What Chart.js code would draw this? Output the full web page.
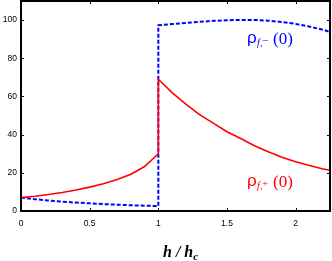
<!DOCTYPE html>
<html>
<head>
<meta charset="utf-8">
<script src="https://cdn.jsdelivr.net/npm/chart.js@4.4.1/dist/chart.umd.min.js"></script>
<style>
  body { margin: 0; background: #fff; }
  canvas { display: block; }
</style>
</head>
<body>
<canvas id="myChart" width="332" height="261"></canvas>
<script>
// h / h_c values (the jump at 1 is repeated on purpose)
const hVals = [0, 0.1, 0.2, 0.3, 0.4, 0.5, 0.6, 0.7, 0.8, 0.9, 1.0,
               1.0, 1.1, 1.2, 1.3, 1.4, 1.5, 1.6, 1.7, 1.8, 1.9, 2.0, 2.1, 2.2, 2.25];
const rhoPlus = [7, 7.7, 8.6, 9.7, 11, 12.5, 14.3, 16.5, 19.3, 23.3, 30,
                 69, 62, 56, 50.5, 46, 41.5, 38, 34.2, 31, 28.2, 25.8, 23.8, 22, 21.3];
const rhoMinus = [7, 6.2, 5.5, 4.9, 4.4, 4.0, 3.6, 3.3, 3.0, 2.8, 2.6,
                  97.3, 97.9, 98.5, 99.1, 99.6, 99.9, 100.1, 100.1, 99.7, 99.0, 98.0, 96.6, 94.9, 93.8];
const xTicks = [0, 0.5, 1, 1.5, 2];
const yTicks = [0, 20, 40, 60, 80, 100];

const toPoints = (xs, ys) => xs.map((x, i) => ({ x: x, y: ys[i] }));

const data = {
    datasets: [{
        label: 'rho f+',
        data: toPoints(hVals, rhoPlus),
        borderColor: '#ff0000',
        borderWidth: 1.6,
        pointRadius: 0,
        tension: 0,
    }, {
        label: 'rho f-',
        data: toPoints(hVals, rhoMinus),
        borderColor: '#0000ff',
        borderWidth: 2,
        borderDash: [4, 2],
        pointRadius: 0,
        tension: 0,
    }],
};

// frame, inward ticks, labels and axis title
const decor = {
    id: 'decor',
    afterDraw(chart) {
        const c = chart.ctx;
        const a = chart.chartArea;
        const xs = chart.scales.x, ys = chart.scales.y;
        c.save();
        c.strokeStyle = '#000';
        c.lineWidth = 2;
        c.strokeRect(a.left, a.top, a.right - a.left, a.bottom - a.top);
        c.lineWidth = 1;
        c.beginPath();
        xTicks.forEach(v => {
            const px = Math.round(xs.getPixelForValue(v)) + 0.5;
            c.moveTo(px, a.bottom); c.lineTo(px, a.bottom - 3);
            c.moveTo(px, a.top); c.lineTo(px, a.top + 3);
        });
        yTicks.forEach(v => {
            const py = Math.round(ys.getPixelForValue(v)) + 0.5;
            c.moveTo(a.left, py); c.lineTo(a.left + 3, py);
            c.moveTo(a.right, py); c.lineTo(a.right - 3, py);
        });
        c.stroke();

        function label(x, y, col, sign) {
            c.fillStyle = col;
            c.textBaseline = 'alphabetic';
            c.textAlign = 'left';
            c.font = '17px "Liberation Sans", Arial, sans-serif';
            c.fillText('\u03c1', x, y);
            c.font = 'italic 10px "Liberation Serif", serif';
            c.fillText('f', x + 10, y + 3);
            c.font = '9px "Liberation Sans", sans-serif';
            c.fillText(',', x + 13, y + 3);
            c.font = '11px "Liberation Serif", serif';
            c.fillText(sign, x + 15, y + 1);
            c.font = '17px "Liberation Serif", serif';
            c.fillText('(0)', x + 26, y + 1);
        }
        label(247, 43, '#0000ff', '\u2212');
        label(247, 186, '#ff0000', '+');

        c.fillStyle = '#000';
        c.font = 'bold italic 16px "Liberation Serif", serif';
        c.textAlign = 'left';
        const t = 'h / h';
        c.fillText(t, 163, 257);
        const w = c.measureText(t).width;
        c.font = 'bold italic 11px "Liberation Serif", serif';
        c.fillText('c', 163 + w, 260);
        c.restore();
    }
};

const config = {
    type: 'line',
    data: data,
    options: {
        responsive: false,
        animation: false,
        layout: { autoPadding: false, padding: { top: 1, right: 2, left: 0, bottom: 0 } },
        plugins: {
            legend: { display: false },
            tooltip: { enabled: false },
        },
        scales: {
            x: {
                type: 'linear',
                min: 0,
                max: 2.25,
                grid: { display: false, drawTicks: false },
                border: { display: false },
                ticks: {
                    stepSize: 0.5,
                    includeBounds: false,
                    padding: 8,
                    color: '#000',
                    maxRotation: 0,
                    callback: v => String(v),
                    font: { size: 8.5, family: '"Liberation Sans", Arial, sans-serif' },
                },
                afterFit: s => { s.height = 50; s.paddingLeft = 0; s.paddingRight = 0; },
            },
            y: {
                min: 0,
                max: 110,
                grid: { display: false, drawTicks: false },
                border: { display: false },
                ticks: {
                    stepSize: 20,
                    includeBounds: false,
                    padding: 4,
                    color: '#000',
                    callback: v => String(v),
                    font: { size: 8.5, family: '"Liberation Sans", Arial, sans-serif' },
                },
                afterFit: s => { s.width = 21; s.paddingTop = 0; s.paddingBottom = 0; },
            },
        },
    },
    plugins: [decor],
};

const ctx = document.getElementById('myChart').getContext('2d');
const myChart = new Chart(ctx, config);
</script>
</body>
</html>
